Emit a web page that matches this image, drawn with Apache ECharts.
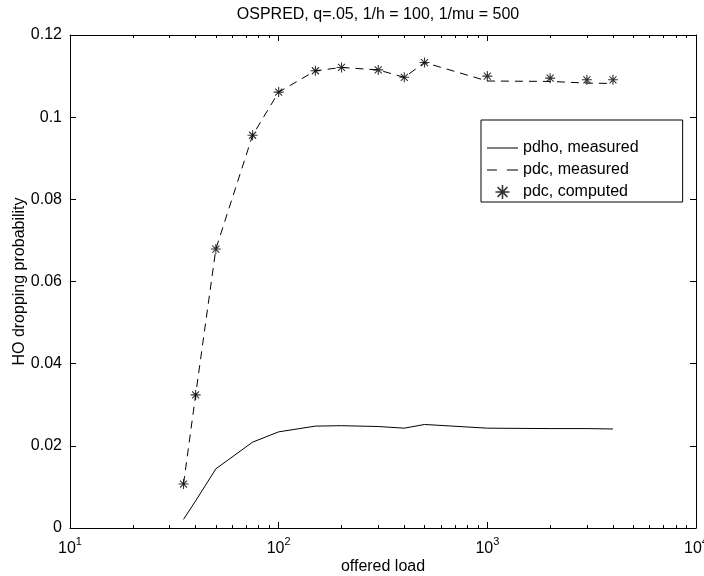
<!DOCTYPE html>
<html><head><meta charset="utf-8">
<script src="https://cdn.jsdelivr.net/npm/echarts@6/dist/echarts.min.js"></script>
<style>html,body{margin:0;padding:0;background:#fff}#c{width:704px;height:576px}</style>
</head><body><div id="c"></div>
<script>
const loads = [35, 40, 50, 75, 100, 150, 200, 300, 400, 500, 1000, 2000, 3000, 4000];
const pdhoMeasured = [0.0021, 0.0066, 0.0144, 0.0209, 0.0234, 0.0248, 0.0249, 0.0247, 0.0243, 0.0252, 0.0243, 0.0242, 0.0242, 0.0241];
const pdcMeasured = [0.0107, 0.0324, 0.0679, 0.0956, 0.1061, 0.1113, 0.1121, 0.1115, 0.1097, 0.1133, 0.1088, 0.1087, 0.1083, 0.1082];
const pdcComputed = [0.0107, 0.0324, 0.0679, 0.0956, 0.1061, 0.1113, 0.1121, 0.1115, 0.1097, 0.1133, 0.1100, 0.1095, 0.1091, 0.1091];
const seriesNames = ['pdho, measured', 'pdc, measured', 'pdc, computed'];
const titleText = 'OSPRED, q=.05, 1/h = 100, 1/mu = 500';
const xName = 'offered load';
const yName = 'HO dropping probability';
const minorTicks = [20,30,40,50,60,70,80,90,200,300,400,500,600,700,800,900,2000,3000,4000,5000,6000,7000,8000,9000];

const FONT = 'Liberation Sans, Arial, Helvetica, sans-serif';
const star = 'path://M8.9 0 L11.1 0 L11.1 20 L8.9 20 Z M0 8.9 L20 8.9 L20 11.1 L0 11.1 Z M3.78 2.22 L17.78 16.22 L16.22 17.78 L2.22 3.78 Z M17.78 3.78 L3.78 17.78 L2.22 16.22 L16.22 2.22 Z';
const solidIcon = 'path://M0 0 L31 0 L31 1 L0 1 Z';
const dashIcon = 'path://M0 0 L8 0 L8 1 L0 1 Z M16 0 L25 0 L25 1 L16 1 Z';
const zip = (xs, ys) => xs.map((x, i) => [x, ys[i]]);

const axLine = { show: true, lineStyle: { color: '#000', width: 1 } };
const baseX = { type: 'log', logBase: 10, min: 10, max: 10000, splitLine: { show: false }, gridIndex: 0 };
const tick = (len, extra) => Object.assign({ show: true, inside: true, length: len, lineStyle: { color: '#000', width: 1 } }, extra || {});

const chart = echarts.init(document.getElementById('c'), null, { renderer: 'canvas' });
chart.setOption({
  backgroundColor: '#fff',
  animation: false,
  textStyle: { fontFamily: FONT, color: '#000' },
  title: {
    text: titleText, left: 373, top: 2, textAlign: 'center',
    textStyle: { fontFamily: FONT, fontSize: 16, fontWeight: 'normal', color: '#000' }
  },
  grid: { left: 70, right: 8, top: 35, bottom: 48, containLabel: false, outerBoundsMode: 'none' },
  legend: {
    data: [
      { name: seriesNames[0], icon: solidIcon },
      { name: seriesNames[1], icon: dashIcon },
      { name: seriesNames[2] }
    ],
    orient: 'vertical', left: 481, top: 120,
    padding: [20, 44, 2, 6], itemGap: 6, itemWidth: 31, itemHeight: 14,
    backgroundColor: '#fff', borderColor: '#000', borderWidth: 1, borderRadius: 0,
    textStyle: { fontFamily: FONT, fontSize: 16, color: '#000' }
  },
  xAxis: [
    Object.assign({}, baseX, {
      position: 'bottom', axisLine: axLine, axisTick: tick(6),
      axisLabel: {
        margin: 8, color: '#000',
        formatter: v => '{b|10}{e|' + Math.round(Math.log10(v)) + '}',
        rich: { b: { fontSize: 16, fontFamily: FONT, color: '#000' }, e: { fontSize: 11, fontFamily: FONT, color: '#000', padding: [0, 0, 14, 0] } }
      },
      name: xName, nameLocation: 'middle', nameGap: 31, nameMoveOverlap: false,
      nameTextStyle: { fontFamily: FONT, fontSize: 16, color: '#000' }
    }),
    Object.assign({}, baseX, {
      position: 'bottom', axisLine: { show: false }, axisLabel: { show: false },
      axisTick: tick(3, { customValues: minorTicks })
    }),
    Object.assign({}, baseX, {
      position: 'top', axisLine: axLine, axisLabel: { show: false }, axisTick: tick(6)
    }),
    Object.assign({}, baseX, {
      position: 'top', axisLine: { show: false }, axisLabel: { show: false },
      axisTick: tick(3, { customValues: minorTicks })
    })
  ],
  yAxis: [
    {
      type: 'value', min: 0, max: 0.12, interval: 0.02, position: 'left',
      axisLine: axLine, splitLine: { show: false }, axisTick: tick(6),
      axisLabel: { margin: 8, fontSize: 16, fontFamily: FONT, color: '#000' },
      name: yName, nameLocation: 'middle', nameGap: 42, nameRotate: 90, nameMoveOverlap: false,
      nameTextStyle: { fontFamily: FONT, fontSize: 16, color: '#000' }
    },
    {
      type: 'value', min: 0, max: 0.12, interval: 0.02, position: 'right',
      axisLine: axLine, splitLine: { show: false }, axisLabel: { show: false }, axisTick: tick(6)
    }
  ],
  series: [
    {
      name: seriesNames[0], type: 'line', xAxisIndex: 0, yAxisIndex: 0,
      data: zip(loads, pdhoMeasured), showSymbol: false, symbol: 'none',
      lineStyle: { color: '#000', width: 1, type: 'solid' }, itemStyle: { color: '#000' }
    },
    {
      name: seriesNames[1], type: 'line', xAxisIndex: 0, yAxisIndex: 0,
      data: zip(loads, pdcMeasured), showSymbol: false, symbol: 'none',
      lineStyle: { color: '#000', width: 1, type: [8, 6] }, itemStyle: { color: '#000' }
    },
    {
      name: seriesNames[2], type: 'scatter', xAxisIndex: 0, yAxisIndex: 0,
      data: zip(loads, pdcComputed), symbol: star, symbolSize: 10,
      itemStyle: { color: '#000' }
    }
  ]
});
</script>
</body></html>
